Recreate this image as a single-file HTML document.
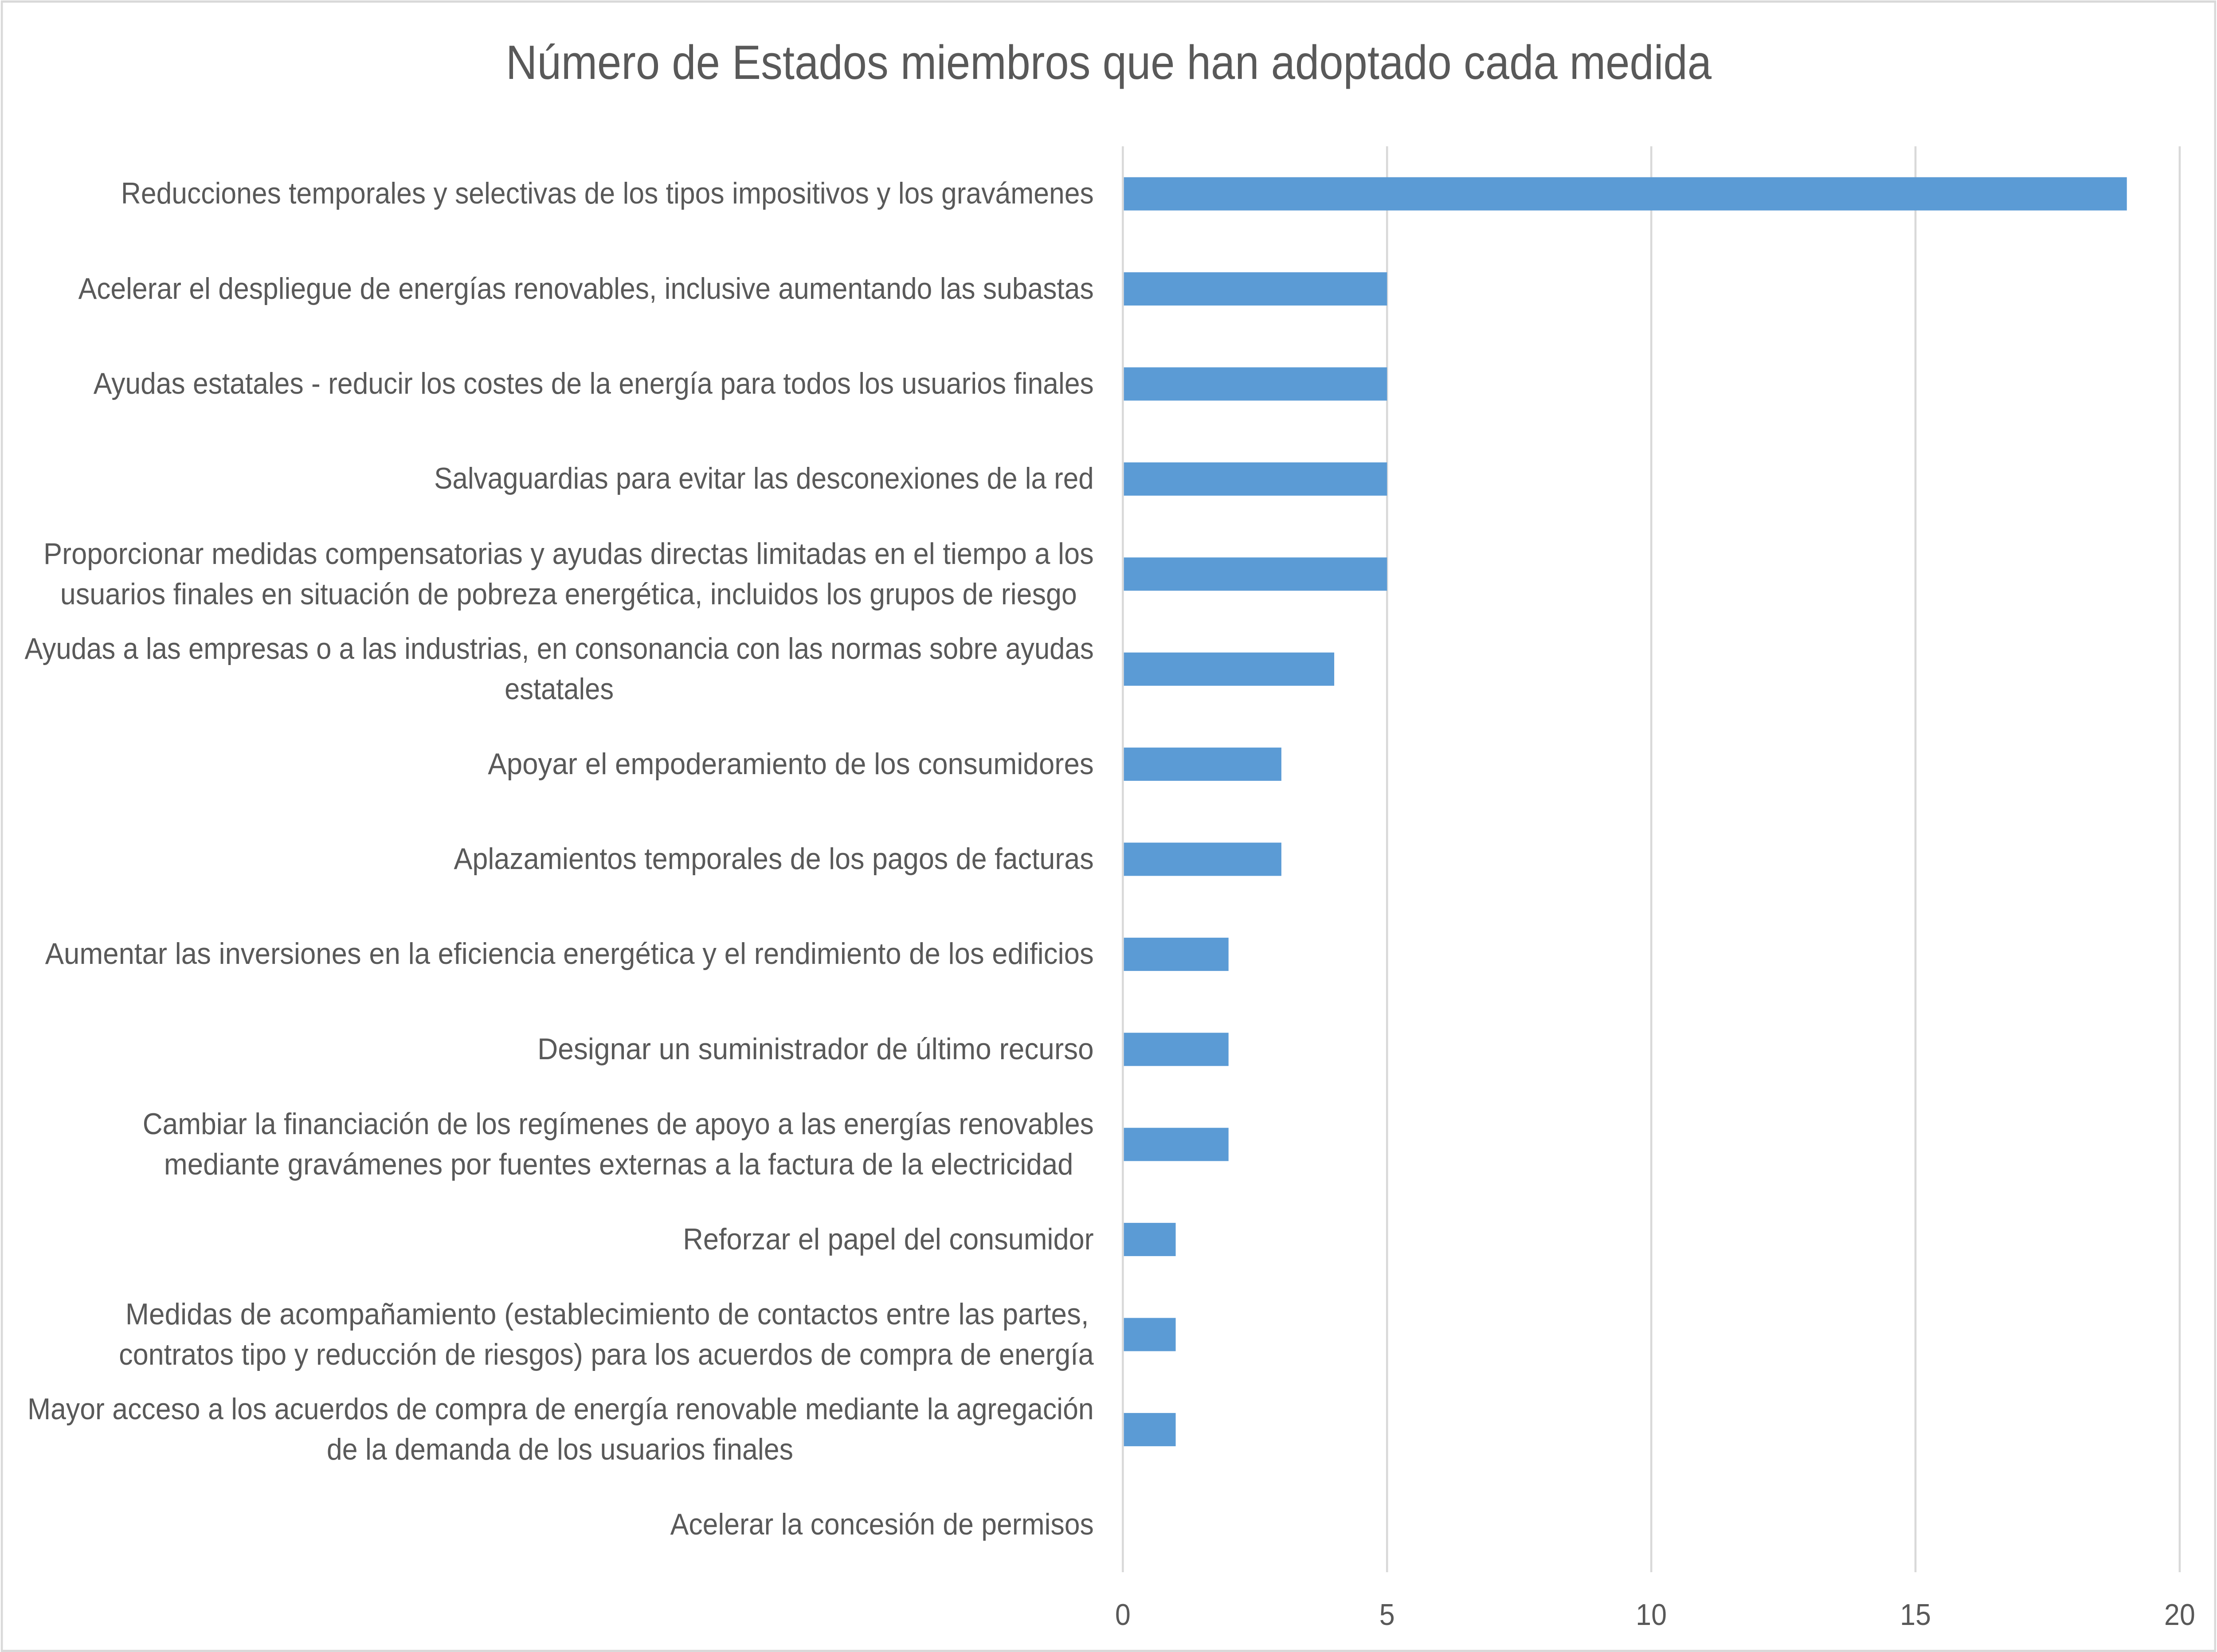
<!DOCTYPE html>
<html>
<head>
<meta charset="utf-8">
<style>
  html, body { margin: 0; padding: 0; background: #ffffff; overflow: hidden; width: 100%; height: 100%; }
  svg { display: block; width: 100vw; height: 100vh; }
  text { font-family: "Liberation Sans", "DejaVu Sans", sans-serif; fill: #595959; }
</style>
</head>
<body>
<svg xmlns="http://www.w3.org/2000/svg" viewBox="0 0 5408 3726" preserveAspectRatio="none">
  <rect x="0" y="0" width="5408" height="3726" fill="#ffffff"/>
  <rect x="4.5" y="3.5" width="5399" height="3720" fill="none" stroke="#d9d9d9" stroke-width="5"/>

  <!-- Title -->
  <text x="1234" y="178" font-size="109" textLength="2941" lengthAdjust="spacingAndGlyphs">Número de Estados miembros que han adoptado cada medida</text>

  <!-- Gridlines -->
  <g stroke="#d9d9d9" stroke-width="5">
    <line x1="2739" y1="330" x2="2739" y2="3546"/>
    <line x1="3383.5" y1="330" x2="3383.5" y2="3546"/>
    <line x1="4028" y1="330" x2="4028" y2="3546"/>
    <line x1="4672.5" y1="330" x2="4672.5" y2="3546"/>
    <line x1="5317" y1="330" x2="5317" y2="3546"/>
  </g>

  <!-- Bars -->
  <g fill="#5b9bd5">
    <rect x="2741.5" y="399.7" width="2446.6" height="75"/>
    <rect x="2741.5" y="614.1" width="642" height="75"/>
    <rect x="2741.5" y="828.5" width="642" height="75"/>
    <rect x="2741.5" y="1042.9" width="642" height="75"/>
    <rect x="2741.5" y="1257.3" width="642" height="75"/>
    <rect x="2741.5" y="1471.7" width="513.1" height="75"/>
    <rect x="2741.5" y="1686.1" width="384.2" height="75"/>
    <rect x="2741.5" y="1900.5" width="384.2" height="75"/>
    <rect x="2741.5" y="2114.9" width="255.3" height="75"/>
    <rect x="2741.5" y="2329.3" width="255.3" height="75"/>
    <rect x="2741.5" y="2543.7" width="255.3" height="75"/>
    <rect x="2741.5" y="2758.1" width="126.4" height="75"/>
    <rect x="2741.5" y="2972.5" width="126.4" height="75"/>
    <rect x="2741.5" y="3186.9" width="126.4" height="75"/>
  </g>

  <!-- Category labels -->
  <g font-size="68">
    <text x="295" y="459" textLength="2373" lengthAdjust="spacingAndGlyphs">Reducciones temporales y selectivas de los tipos impositivos y los gravámenes</text>
    <text x="191" y="674" textLength="2477" lengthAdjust="spacingAndGlyphs">Acelerar el despliegue de energías renovables, inclusive aumentando las subastas</text>
    <text x="228" y="888" textLength="2440" lengthAdjust="spacingAndGlyphs">Ayudas estatales - reducir los costes de la energía para todos los usuarios finales</text>
    <text x="1059" y="1102" textLength="1609" lengthAdjust="spacingAndGlyphs">Salvaguardias para evitar las desconexiones de la red</text>
    <text x="106" y="1272" textLength="2562" lengthAdjust="spacingAndGlyphs">Proporcionar medidas compensatorias y ayudas directas limitadas en el tiempo a los</text>
    <text x="147" y="1363" textLength="2480" lengthAdjust="spacingAndGlyphs">usuarios finales en situación de pobreza energética, incluidos los grupos de riesgo</text>
    <text x="60" y="1486" textLength="2608" lengthAdjust="spacingAndGlyphs">Ayudas a las empresas o a las industrias, en consonancia con las normas sobre ayudas</text>
    <text x="1231" y="1577" textLength="266" lengthAdjust="spacingAndGlyphs">estatales</text>
    <text x="1190" y="1746" textLength="1478" lengthAdjust="spacingAndGlyphs">Apoyar el empoderamiento de los consumidores</text>
    <text x="1107" y="1960" textLength="1561" lengthAdjust="spacingAndGlyphs">Aplazamientos temporales de los pagos de facturas</text>
    <text x="110" y="2174" textLength="2558" lengthAdjust="spacingAndGlyphs">Aumentar las inversiones en la eficiencia energética y el rendimiento de los edificios</text>
    <text x="1311" y="2389" textLength="1357" lengthAdjust="spacingAndGlyphs">Designar un suministrador de último recurso</text>
    <text x="348" y="2558" textLength="2320" lengthAdjust="spacingAndGlyphs">Cambiar la financiación de los regímenes de apoyo a las energías renovables</text>
    <text x="400" y="2649" textLength="2218" lengthAdjust="spacingAndGlyphs">mediante gravámenes por fuentes externas a la factura de la electricidad</text>
    <text x="1666" y="2818" textLength="1002" lengthAdjust="spacingAndGlyphs">Reforzar el papel del consumidor</text>
    <text x="306" y="2987" textLength="2350" lengthAdjust="spacingAndGlyphs">Medidas de acompañamiento (establecimiento de contactos entre las partes,</text>
    <text x="290" y="3078" textLength="2378" lengthAdjust="spacingAndGlyphs">contratos tipo y reducción de riesgos) para los acuerdos de compra de energía</text>
    <text x="67" y="3201" textLength="2601" lengthAdjust="spacingAndGlyphs">Mayor acceso a los acuerdos de compra de energía renovable mediante la agregación</text>
    <text x="797" y="3292" textLength="1138" lengthAdjust="spacingAndGlyphs">de la demanda de los usuarios finales</text>
    <text x="1635" y="3461" textLength="1033" lengthAdjust="spacingAndGlyphs">Acelerar la concesión de permisos</text>
  </g>

  <!-- Tick labels -->
  <g font-size="68" text-anchor="middle">
    <text x="2739" y="3665">0</text>
    <text x="3383.5" y="3665">5</text>
    <text x="4028" y="3665">10</text>
    <text x="4672.5" y="3665">15</text>
    <text x="5317" y="3665">20</text>
  </g>
</svg>
</body>
</html>
